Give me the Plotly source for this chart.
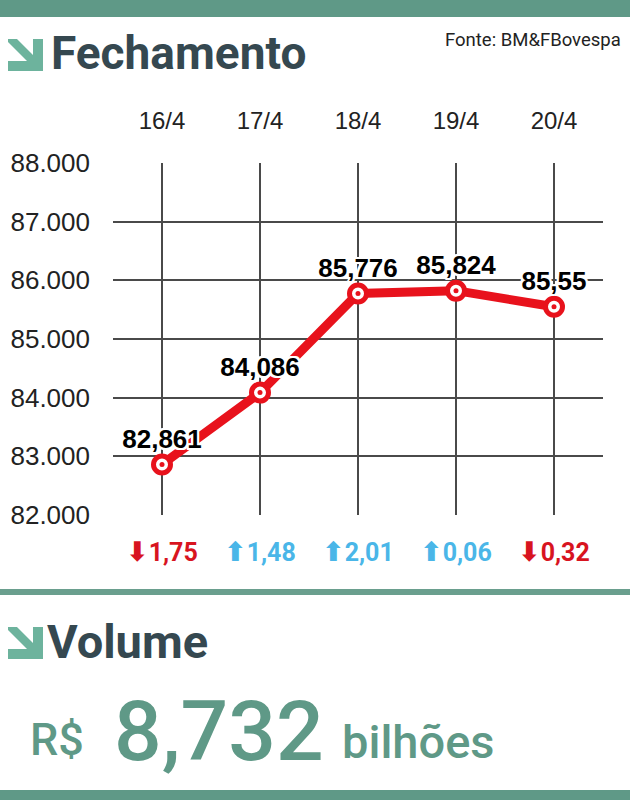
import plotly.graph_objects as go

# ---- data ----
dates = ["16/4", "17/4", "18/4", "19/4", "20/4"]
close_k = [82.861, 84.086, 85.776, 85.824, 85.55]      # index, thousands of points
change_pct = [-1.75, 1.48, 2.01, 0.06, -0.32]            # daily change, %
y_ticks = [82000, 83000, 84000, 85000, 86000, 87000, 88000]
volume_bi = 8.732                                        # R$ billions
source = "Fonte: BM&FBovespa"

W, H = 630, 800
TEAL = "#5f9987"
TEAL_LIGHT = "#6db39d"
SLATE = "#354850"
RED = "#e8121c"
ROBOTO = "Roboto, Liberation Sans, sans-serif"
ARIAL = "Liberation Sans, Arial, sans-serif"

def px(x):
    return x / W

def py(y):
    return 1 - y / H

x_idx = list(range(len(dates)))
y_vals = [v * 1000 for v in close_k]
labels = [str(v).replace(".", ",") for v in close_k]

fig = go.Figure()
# line with ring markers
fig.add_trace(go.Scatter(
    x=x_idx, y=y_vals, mode="lines+markers",
    line=dict(color=RED, width=9),
    marker=dict(size=17, color="white", line=dict(color=RED, width=5)),
    hoverinfo="skip", showlegend=False))
# center dots
fig.add_trace(go.Scatter(
    x=x_idx, y=y_vals, mode="markers",
    marker=dict(size=5, color=RED),
    hoverinfo="skip", showlegend=False))
# value labels with white halo
halo = ", ".join(f"{a}px {b}px 0 white" for a in (-2, 0, 2) for b in (-2, 0, 2) if (a, b) != (0, 0))
fig.add_trace(go.Scatter(
    x=x_idx, y=y_vals, mode="markers+text",
    marker=dict(size=14, color="rgba(0,0,0,0)"),
    text=labels, textposition="top center",
    textfont=dict(family=ARIAL, size=26, color="black", weight="bold", shadow=halo),
    hoverinfo="skip", showlegend=False))

annotations = []
# change row
for i, v in enumerate(change_pct):
    arrow = "⬇" if v < 0 else "⬆"
    col = "#d8141f" if v < 0 else "#4ab6e8"
    annotations.append(dict(
        x=i, xref="x", y=py(551), yref="paper",
        text=f"<span style='font-family:DejaVu Sans;font-size:27px'>{arrow}</span>"
             + f"{abs(v):.2f}".replace(".", ","),
        showarrow=False, xanchor="center", yanchor="middle",
        font=dict(family=ROBOTO, size=25, color=col, weight="bold")))

# headers
annotations += [
    dict(x=px(49), y=py(53), xref="paper", yref="paper", text="Fechamento",
         showarrow=False, xanchor="left", yanchor="middle",
         font=dict(family=ROBOTO, size=46, color=SLATE, weight="bold")),
    dict(x=px(623), y=py(40), xref="paper", yref="paper", text=source,
         showarrow=False, xanchor="right", yanchor="middle",
         font=dict(family=ROBOTO, size=18.5, color="#222222")),
    dict(x=px(45), y=py(641), xref="paper", yref="paper", text="Volume",
         showarrow=False, xanchor="left", yanchor="middle",
         font=dict(family=ROBOTO, size=47, color=SLATE, weight="bold")),
    dict(x=px(28), y=py(739), xref="paper", yref="paper", text="R$",
         showarrow=False, xanchor="left", yanchor="middle",
         font=dict(family=ROBOTO, size=45, color=TEAL, weight=500)),
    dict(x=px(112), y=py(731), xref="paper", yref="paper",
         text=f"{volume_bi:.3f}".replace(".", ","),
         showarrow=False, xanchor="left", yanchor="middle",
         font=dict(family=ROBOTO, size=84, color=TEAL, weight=500)),
    dict(x=px(340), y=py(741), xref="paper", yref="paper", text="bilhões",
         showarrow=False, xanchor="left", yanchor="middle",
         font=dict(family=ROBOTO, size=47, color=TEAL, weight=500)),
]

def arrow_path(x0, y0, s):
    pts = [(0, 3), (9, 3), (25, 19), (25, 3), (35, 3), (35, 35), (0, 35), (0, 25), (19, 25), (0, 6)]
    k = s / 35.0
    return "M " + " L ".join(f"{px(x0 + a * k):.5f},{py(y0 + b * k):.5f}" for a, b in pts) + " Z"

shapes = [
    dict(type="rect", xref="paper", yref="paper", x0=0, x1=1, y0=py(17), y1=1,
         fillcolor=TEAL, line_width=0),
    dict(type="rect", xref="paper", yref="paper", x0=0, x1=1, y0=py(595), y1=py(589),
         fillcolor="#6a9f8e", line_width=0),
    dict(type="rect", xref="paper", yref="paper", x0=0, x1=1, y0=0, y1=py(790),
         fillcolor=TEAL, line_width=0),
    dict(type="path", xref="paper", yref="paper", path=arrow_path(8, 36, 35),
         fillcolor=TEAL_LIGHT, line_width=0),
    dict(type="path", xref="paper", yref="paper", path=arrow_path(8, 624, 35),
         fillcolor=TEAL_LIGHT, line_width=0),
]

fig.update_layout(
    width=W, height=H,
    margin=dict(l=0, r=0, t=0, b=0),
    paper_bgcolor="white", plot_bgcolor="white",
    separators=",.",
    showlegend=False,
    xaxis=dict(domain=[px(113), px(603)], range=[-0.5, len(dates) - 0.5],
               tickvals=x_idx, ticktext=dates, side="top",
               showgrid=True, gridcolor="#4a4a4a", gridwidth=1.6,
               zeroline=False, showline=False, ticks="",
               ticklabelstandoff=28, automargin=False,
               tickfont=dict(family=ARIAL, size=24, color="#222222")),
    yaxis=dict(domain=[py(515), py(163)], range=[82000, 88000],
               tickvals=y_ticks, tickformat=",d",
               showgrid=True, gridcolor="#4a4a4a", gridwidth=1.6,
               zeroline=False, showline=False, ticks="",
               ticklabelstandoff=22, automargin=False,
               tickfont=dict(family=ARIAL, size=26, color="#222222")),
    annotations=annotations,
    shapes=shapes,
)

fig.write_html("out.html", config={"displayModeBar": False},
               post_script="document.body.style.margin='0px';")
